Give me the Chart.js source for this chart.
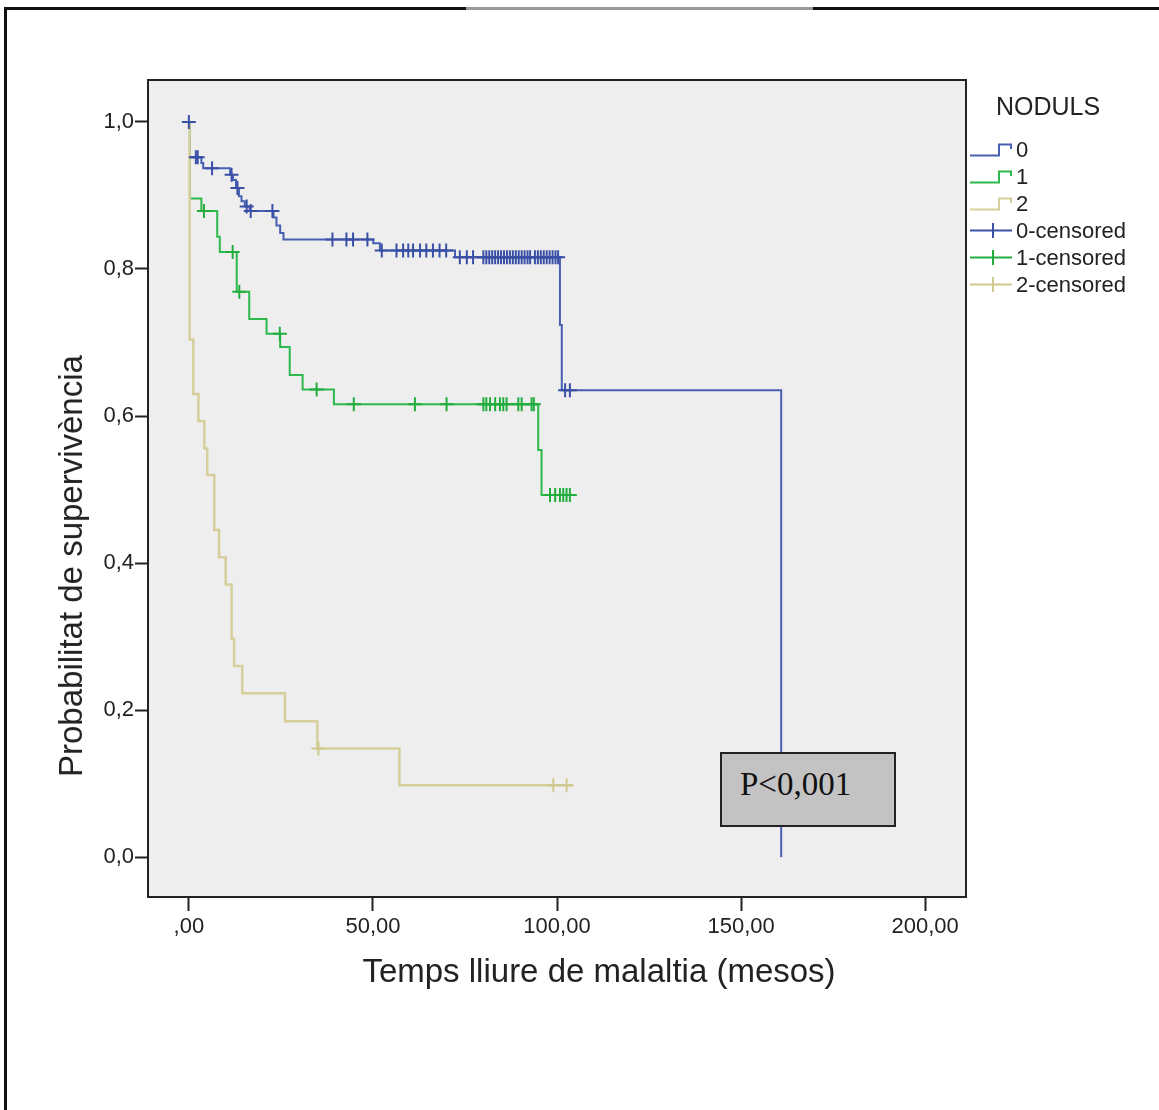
<!DOCTYPE html>
<html>
<head>
<meta charset="utf-8">
<script src="https://cdn.jsdelivr.net/npm/chart.js@4.4.1/dist/chart.umd.min.js"></script>
<style>
  html, body { margin:0; padding:0; background:#fff; }
  body { width:1159px; height:1110px; position:relative; overflow:hidden; font-family:"Liberation Sans", Arial, sans-serif; color:#222; }
  #c { position:absolute; left:0; top:0; }
  .frame { position:absolute; background:#111; }
  .xtitle { position:absolute; left:599px; top:971px; transform:translate(-50%,-50%); font-size:33px; white-space:nowrap; }
  .ytitle { position:absolute; left:71px; top:566px; transform:translate(-50%,-50%) rotate(-90deg); font-size:33px; white-space:nowrap; }
  .legend { position:absolute; left:968px; top:90px; }
  .legend .ttl { position:absolute; left:28px; top:2px; font-size:25px; white-space:nowrap; }
  .legend .row { position:absolute; left:0; height:27px; width:190px; }
  .legend .row svg { position:absolute; left:0; top:0; }
  .legend .row span { position:absolute; left:48px; top:50%; transform:translateY(-50%); font-size:22px; white-space:nowrap; }
  .pbox { position:absolute; left:720px; top:752px; width:172px; height:71px; background:#c3c3c3; border:2px solid #222; }
  .pbox span { position:absolute; left:18px; top:50%; transform:translateY(-66%); font-family:"Liberation Serif", "Times New Roman", serif; font-size:33px; color:#111; white-space:nowrap; }
</style>
</head>
<body>
<canvas id="c" width="1159" height="1110"></canvas>
<div class="frame" style="left:4px; top:7px; width:1155px; height:3px;"></div>
<div class="frame" style="left:466px; top:7px; width:347px; height:3px; background:#9a9a9a;"></div>
<div class="frame" style="left:4px; top:7px; width:3px; height:1103px;"></div>
<div class="xtitle">Temps lliure de malaltia (mesos)</div>
<div class="ytitle">Probabilitat de supervivència</div>
<div class="legend" id="legend"><div class="ttl">NODULS</div></div>
<div class="pbox"><span>P&lt;0,001</span></div>
<script>
// ---- data ----
const groupNames = ['0', '1', '2'];
const groupColors = ['#4760b2', '#2fb84c', '#d6cf9c'];
const censorColors = ['#3a50a6', '#22ad3e', '#cfc88f'];

// Kaplan-Meier step points: time (months) and survival after that time
const g0Times = [0, 0.3, 3.4, 3.9, 11.2, 12.0, 12.8, 13.6, 14.3, 15.2, 16.5, 23.0, 23.8, 24.8, 25.7, 50.1, 51.9, 72.3, 100.8, 101.3, 160.9];
const g0Surv  = [1.0, 0.952, 0.944, 0.937, 0.928, 0.921, 0.910, 0.899, 0.892, 0.885, 0.879, 0.870, 0.859, 0.849, 0.840, 0.835, 0.825, 0.816, 0.724, 0.635, 0.0];
const g0CensTimes = [0, 1.9, 2.4, 6.3, 11.6, 13.2, 15.7, 16.8, 22.7, 39.0, 42.8, 44.6, 48.5,
  52.4, 56.4, 58.2, 59.6, 60.9, 62.8, 64.5, 66.3, 68.1, 69.9,
  73.6, 75.5, 77.2, 80.0, 80.8, 81.6, 82.4, 83.2, 84.0, 84.8, 85.6, 86.4, 87.2, 88.0, 88.8, 89.6, 90.4, 91.2, 92.0, 92.7,
  94.0, 94.8, 95.6, 96.4, 97.2, 98.0, 98.8, 99.6, 100.3, 102.2, 103.5];
const g0CensSurv = [1.0, 0.952, 0.952, 0.937, 0.928, 0.910, 0.885, 0.879, 0.879, 0.840, 0.840, 0.840, 0.840,
  0.825, 0.825, 0.825, 0.825, 0.825, 0.825, 0.825, 0.825, 0.825, 0.825,
  0.816, 0.816, 0.816, 0.816, 0.816, 0.816, 0.816, 0.816, 0.816, 0.816, 0.816, 0.816, 0.816, 0.816, 0.816, 0.816, 0.816, 0.816, 0.816, 0.816,
  0.816, 0.816, 0.816, 0.816, 0.816, 0.816, 0.816, 0.816, 0.816, 0.635, 0.635];

const g1Times = [0, 0.3, 3.4, 7.7, 8.4, 13.0, 16.4, 21.1, 24.8, 27.4, 30.9, 39.4, 94.9, 95.8, 104.0];
const g1Surv  = [1.0, 0.896, 0.879, 0.844, 0.823, 0.769, 0.732, 0.712, 0.694, 0.656, 0.636, 0.616, 0.554, 0.4925, 0.4925];
const g1CensTimes = [4.1, 11.9, 13.7, 24.7, 34.7, 44.8, 61.4, 70.0, 80.0, 80.8, 81.8, 83.2, 84.5, 85.4, 86.3, 89.5, 90.4, 93.1, 93.7, 98.1, 99.5, 100.8, 101.7, 102.6, 103.5];
const g1CensSurv = [0.879, 0.823, 0.769, 0.712, 0.636, 0.616, 0.616, 0.616, 0.616, 0.616, 0.616, 0.616, 0.616, 0.616, 0.616, 0.616, 0.616, 0.616, 0.616, 0.4925, 0.4925, 0.4925, 0.4925, 0.4925, 0.4925];

const g2Times = [0, 0.2, 1.2, 2.6, 4.2, 5.0, 6.9, 8.2, 10.0, 11.6, 12.3, 14.5, 26.1, 34.9, 57.2, 104.4];
const g2Surv  = [1.0, 0.704, 0.630, 0.593, 0.556, 0.520, 0.445, 0.408, 0.371, 0.297, 0.260, 0.223, 0.185, 0.148, 0.098, 0.098];
const g2CensTimes = [35.2, 99.0, 102.6];
const g2CensSurv  = [0.148, 0.098, 0.098];

const xTickValues = [0, 50, 100, 150, 200];
const xTickLabels = [',00', '50,00', '100,00', '150,00', '200,00'];
const yTickValues = [0, 0.2, 0.4, 0.6, 0.8, 1.0];
const yTickLabels = ['0,0', '0,2', '0,4', '0,6', '0,8', '1,0'];

// ---- build datasets ----
const pts = (xs, ys) => xs.map((x, i) => ({x: x, y: ys[i]}));
const curves = [[g0Times, g0Surv], [g1Times, g1Surv], [g2Times, g2Surv]];
const censors = [[g0CensTimes, g0CensSurv], [g1CensTimes, g1CensSurv], [g2CensTimes, g2CensSurv]];

const datasets = [];
curves.forEach((c, i) => {
  datasets.push({
    label: groupNames[i], data: pts(c[0], c[1]),
    borderColor: groupColors[i], borderWidth: i === 2 ? 2.5 : 2,
    stepped: 'before', pointRadius: 0, fill: false, order: 3 - i
  });
});
censors.forEach((c, i) => {
  datasets.push({
    label: groupNames[i] + '-censored', data: pts(c[0], c[1]),
    showLine: false, pointStyle: 'cross', pointRadius: 7,
    pointBorderColor: censorColors[i], pointBackgroundColor: censorColors[i],
    pointBorderWidth: 2, borderColor: censorColors[i], order: 0
  });
});

const plotBg = {
  id: 'plotBg',
  beforeDraw(chart) {
    const {ctx, chartArea: a} = chart;
    ctx.save(); ctx.fillStyle = '#eeeeee';
    ctx.fillRect(a.left, a.top, a.right - a.left, a.bottom - a.top);
    ctx.restore();
  },
  afterDraw(chart) {
    const {ctx, chartArea: a} = chart;
    ctx.save(); ctx.strokeStyle = '#222'; ctx.lineWidth = 2;
    ctx.beginPath();
    ctx.moveTo(a.left, a.top); ctx.lineTo(a.right, a.top); ctx.lineTo(a.right, a.bottom);
    ctx.stroke(); ctx.restore();
  }
};

const tickFont = { family: '"Liberation Sans", Arial, sans-serif', size: 22 };

new Chart(document.getElementById('c'), {
  type: 'line',
  data: { datasets },
  options: {
    responsive: false, animation: false, devicePixelRatio: 1,
    layout: { padding: { left: 0, top: 80, right: 193, bottom: 0 } },
    plugins: { legend: { display: false }, tooltip: { enabled: false } },
    scales: {
      x: {
        type: 'linear', min: -11.1, max: 211.1,
        afterBuildTicks: s => { s.ticks = xTickValues.map(v => ({ value: v })); },
        afterFit: s => { s.height = 213; },
        ticks: { callback: v => xTickLabels[xTickValues.indexOf(v)], font: tickFont, color: '#222', padding: 3, maxRotation: 0 },
        grid: { drawOnChartArea: false, tickLength: 14, tickColor: '#222', tickWidth: 2 },
        border: { display: true, color: '#222', width: 2 }
      },
      y: {
        type: 'linear', min: -0.054, max: 1.057,
        afterBuildTicks: s => { s.ticks = yTickValues.map(v => ({ value: v })); },
        afterFit: s => { s.width = 148; },
        ticks: { callback: v => yTickLabels[yTickValues.findIndex(t => Math.abs(t - v) < 1e-9)], font: tickFont, color: '#222', padding: 1 },
        grid: { drawOnChartArea: false, tickLength: 13, tickColor: '#222', tickWidth: 2 },
        border: { display: true, color: '#222', width: 2 }
      }
    }
  },
  plugins: [plotBg]
});

// ---- legend (HTML) ----
const legend = document.getElementById('legend');
const rowTops = [46, 73, 100, 127, 154, 181];
const items = [];
groupNames.forEach((g, i) => items.push({ text: g, color: groupColors[i], kind: 'step' }));
groupNames.forEach((g, i) => items.push({ text: g + '-censored', color: censorColors[i], kind: 'cross' }));
items.forEach((it, k) => {
  const row = document.createElement('div');
  row.className = 'row';
  row.style.top = rowTops[k] + 'px';
  let svg;
  if (it.kind === 'step') {
    svg = '<svg width="46" height="27"><path d="M2,19.5 H31 V8.5 H43 V13" fill="none" stroke="' + it.color + '" stroke-width="2"/></svg>';
  } else {
    svg = '<svg width="46" height="27"><path d="M2,13.5 H44 M25,6 V21" fill="none" stroke="' + it.color + '" stroke-width="2"/></svg>';
  }
  row.innerHTML = svg + '<span>' + it.text + '</span>';
  legend.appendChild(row);
});
</script>
</body>
</html>
